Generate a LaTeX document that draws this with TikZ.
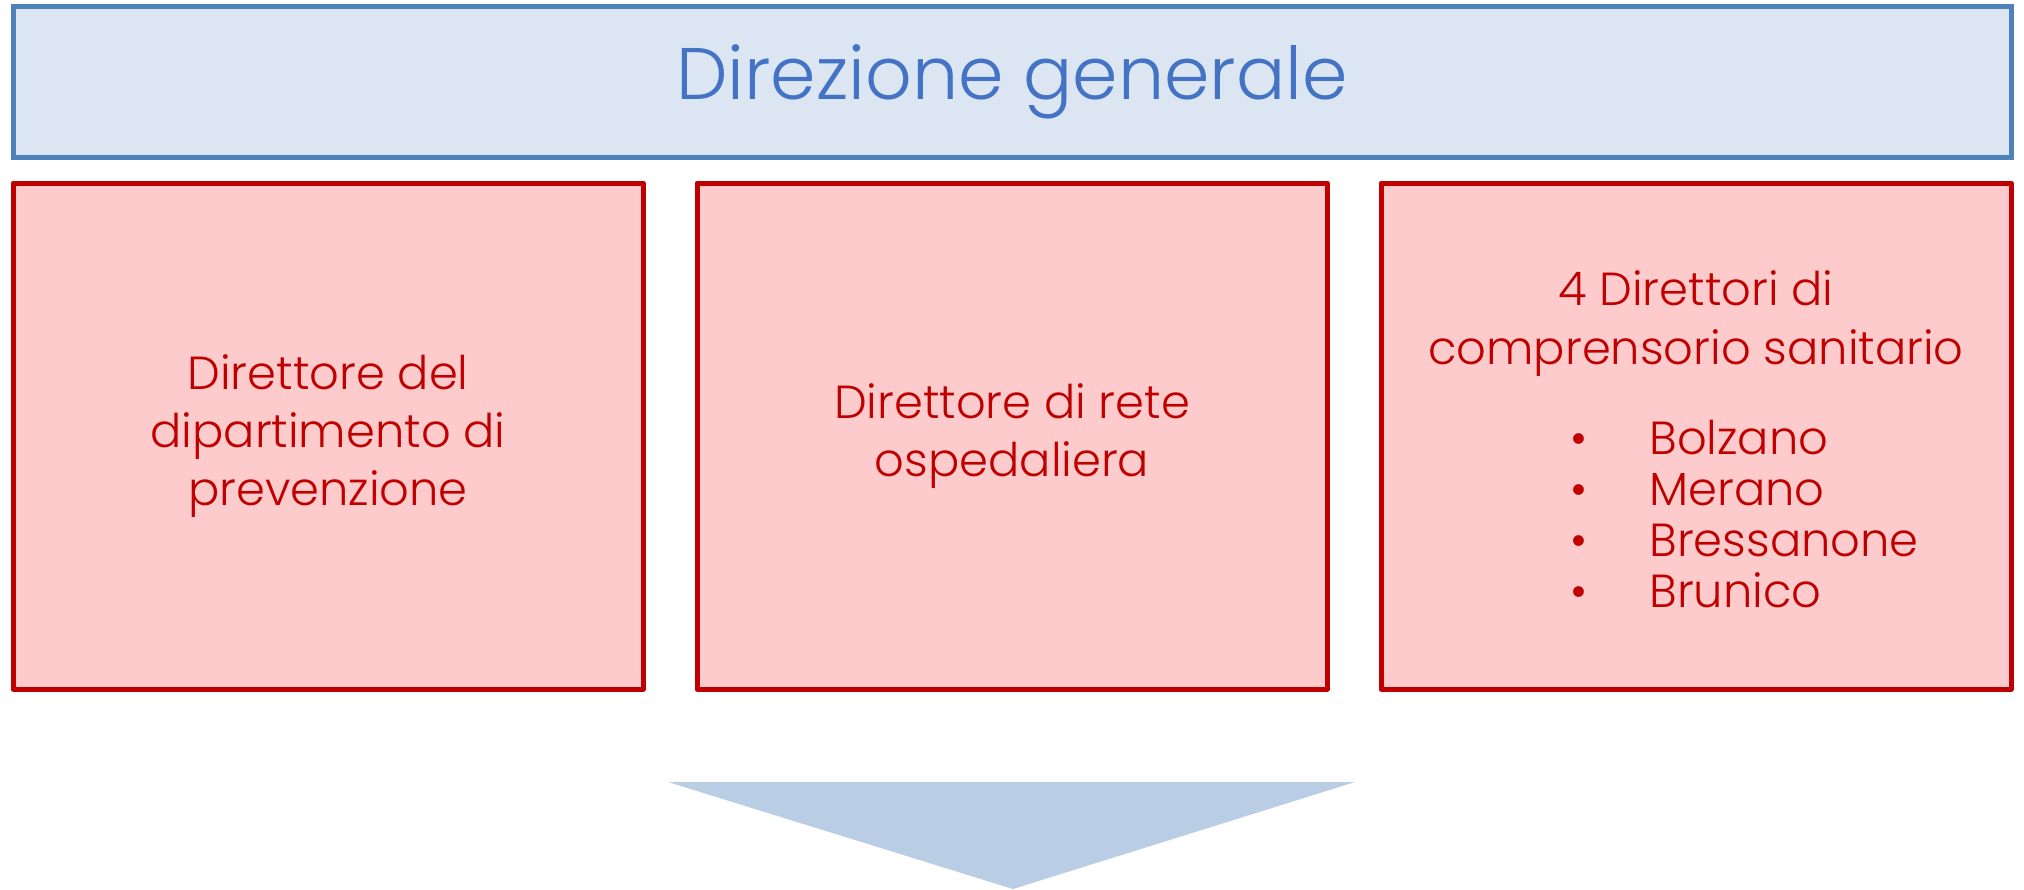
\documentclass[tikz,border=0pt]{standalone}
\usepackage{fontspec}
\setmainfont{Poppins}[UprightFont=* Light]
\usetikzlibrary{positioning}

\definecolor{dgline}{HTML}{4F81BD}
\definecolor{dgfill}{HTML}{DCE6F2}
\definecolor{dgtext}{HTML}{4472C4}
\definecolor{dirline}{HTML}{C00000}
\definecolor{dirfill}{HTML}{FDCBCB}
\definecolor{arrfill}{HTML}{B9CDE5}

\begin{document}
\begin{tikzpicture}[x=0.5pt,y=-0.5pt]
        \tikzstyle{dgbox}=[rectangle,draw=dgline,fill=dgfill,line width=2.5pt,
          minimum width=999pt,minimum height=75.5pt,inner sep=0pt,
          text=dgtext,font=\fontsize{36.5}{40}\selectfont]
        \tikzstyle{dirbox}=[rectangle,draw=dirline,fill=dirfill,line width=2.5pt,
          line join=round,minimum width=315pt,minimum height=253pt,inner sep=0pt,
          text=dirline,align=center,font=\fontsize{23.2}{29}\selectfont]
        \tikzstyle{dirtext}=[text=dirline,inner sep=0pt,align=center,
          font=\fontsize{23.2}{29.5}\selectfont]
        \useasboundingbox (0,0) rectangle (2024,889);
        \node[dgbox] (dg) at (1012,81.5) {Direzione generale};
        \node[dirbox] (prev) at (328,436) {Direttore del\\dipartimento di\\prevenzione};
        \node[dirbox,right=24.5pt of prev] (rete) {Direttore di rete\\ospedaliera};
        \node[dirbox,right=24.5pt of rete] (compr) {};
        \node[dirtext,anchor=base] (comprtit) at (1696,364)
          {4 Direttori di\\comprensorio sanitario};
        \node[dirtext,anchor=north west,font=\fontsize{23.2}{25.5}\selectfont] (sedi) at (1570,418)
          {\begin{tabular}{@{}l@{\hspace{31pt}}l@{}}
            \textbullet & Bolzano\\
            \textbullet & Merano\\
            \textbullet & Bressanone\\
            \textbullet & Brunico
          \end{tabular}};
        % freccia verso il basso
        \fill[arrfill] (668,782) -- (1355,782) -- (1013,889) -- cycle;
    \end{tikzpicture}
\end{document}
